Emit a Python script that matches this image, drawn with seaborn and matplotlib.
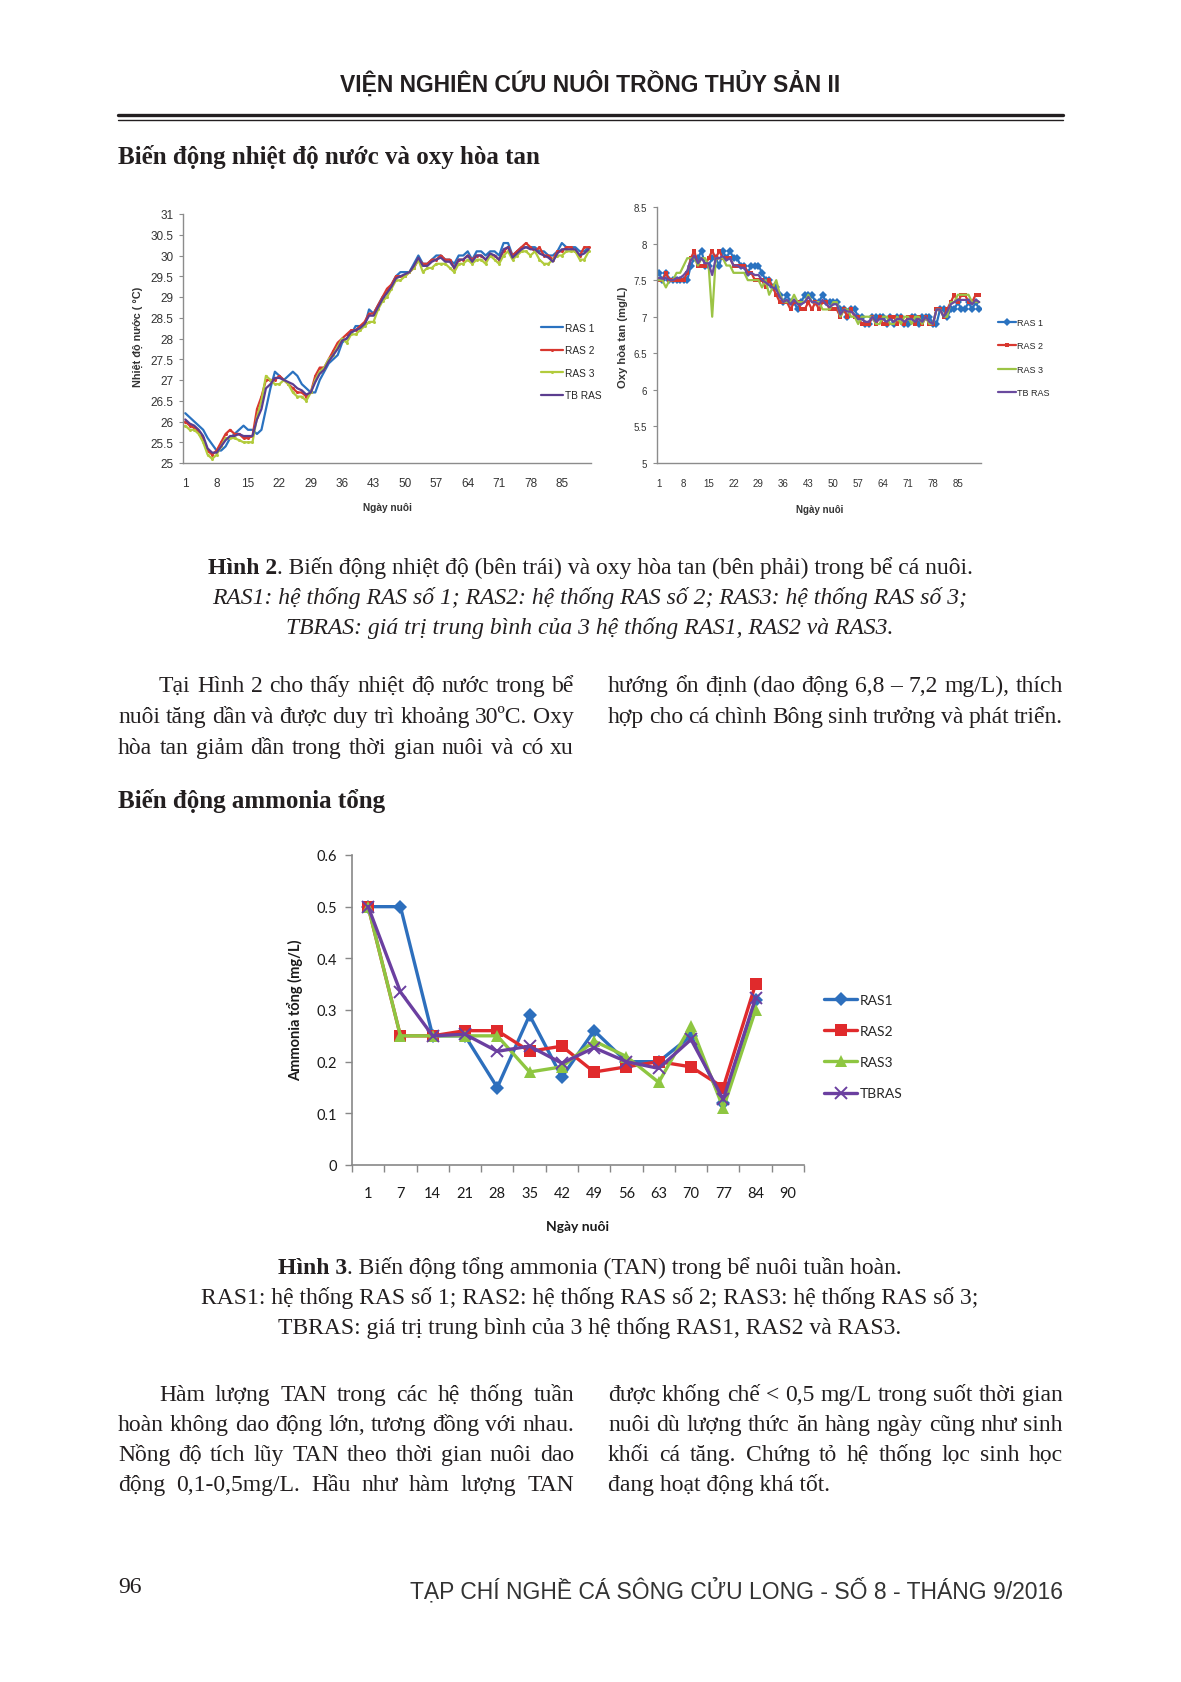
import numpy as np
import pandas as pd
import seaborn as sns
import matplotlib
matplotlib.use('Agg')
import matplotlib.pyplot as plt
from matplotlib.lines import Line2D

# ---- data: water temperature (Hinh 2, left), days 1..91
ras1_temp = [26.2, 26.1, 26.0, 25.9, 25.8, 25.6, 25.45,
             25.3, 25.3, 25.4, 25.6, 25.7, 25.8, 25.9,
             25.8, 25.8, 25.7, 25.8, 26.3, 26.8, 27.2,
             27.1, 27.0, 27.1, 27.2, 27.1, 26.9, 26.8,
             26.7, 26.7, 27.0, 27.2, 27.4, 27.5, 27.6,
             27.9, 28.0, 28.1, 28.3, 28.3, 28.3, 28.7,
             28.6, 28.8, 29.0, 29.1, 29.3, 29.5, 29.6,
             29.6, 29.6, 29.8, 30.0, 29.8, 29.8, 29.9,
             30.0, 30.0, 29.9, 29.9, 29.8, 30.0, 30.0,
             30.1, 29.9, 30.1, 30.1, 30.0, 30.1, 30.1,
             30.0, 30.3, 30.3, 30.0, 30.1, 30.2, 30.2,
             30.2, 30.2, 30.1, 30.1, 30.0, 30.0, 30.1,
             30.3, 30.2, 30.2, 30.2, 30.1, 30.1, 30.2]
ras2_temp = [26.0, 25.9, 25.85, 25.75, 25.6, 25.3, 25.2,
             25.3, 25.5, 25.7, 25.8, 25.7, 25.7, 25.6,
             25.6, 25.65, 26.3, 26.6, 27.0, 27.0, 27.0,
             27.1, 27.0, 26.9, 26.8, 26.7, 26.7, 26.6,
             26.7, 27.1, 27.3, 27.3, 27.5, 27.7, 27.9,
             28.0, 28.1, 28.2, 28.2, 28.3, 28.4, 28.6,
             28.6, 28.8, 29.0, 29.2, 29.3, 29.5, 29.5,
             29.5, 29.6, 29.7, 29.9, 29.8, 29.8, 29.9,
             29.9, 30.0, 29.9, 29.9, 29.7, 29.9, 29.9,
             30.0, 29.9, 30.0, 30.0, 29.9, 30.0, 30.0,
             29.9, 30.1, 30.2, 30.0, 30.1, 30.2, 30.3,
             30.2, 30.1, 30.2, 30.0, 30.0, 29.9, 30.1,
             30.1, 30.2, 30.2, 30.1, 30.0, 30.2, 30.2]
ras3_temp = [25.9, 25.8, 25.8, 25.7, 25.5, 25.2, 25.1,
             25.2, 25.4, 25.6, 25.6, 25.6, 25.55, 25.5,
             25.5, 25.5, 26.1, 26.5, 27.1, 27.0, 26.9,
             26.9, 27.0, 26.9, 26.7, 26.6, 26.6, 26.5,
             26.7, 27.0, 27.2, 27.3, 27.5, 27.6, 27.8,
             28.0, 27.9, 28.1, 28.1, 28.2, 28.3, 28.4,
             28.4, 28.7, 28.9, 29.0, 29.2, 29.4, 29.4,
             29.5, 29.6, 29.7, 29.9, 29.6, 29.7, 29.7,
             29.8, 29.8, 29.8, 29.7, 29.6, 29.8, 29.8,
             29.9, 29.8, 29.9, 29.9, 29.8, 30.0, 29.9,
             29.8, 30.0, 30.1, 29.9, 30.0, 30.1, 30.1,
             30.0, 30.1, 29.9, 29.8, 29.8, 29.9, 30.0,
             30.0, 30.1, 30.1, 30.1, 29.9, 29.9, 30.1]
tb_temp = [26.05, 25.95, 25.9, 25.8, 25.65, 25.35, 25.25,
           25.25, 25.4, 25.55, 25.65, 25.65, 25.7, 25.65,
           25.65, 25.65, 26.05, 26.3, 26.8, 26.9, 27.05,
           27.05, 27.0, 26.95, 26.9, 26.8, 26.75, 26.65,
           26.7, 26.95, 27.15, 27.25, 27.45, 27.6, 27.75,
           27.95, 28.0, 28.15, 28.2, 28.25, 28.35, 28.55,
           28.55, 28.75, 28.95, 29.1, 29.25, 29.45, 29.5,
           29.55, 29.6, 29.75, 29.95, 29.75, 29.75, 29.85,
           29.9, 29.95, 29.85, 29.85, 29.7, 29.9, 29.9,
           30.0, 29.85, 30.0, 30.0, 29.9, 30.05, 30.0,
           29.9, 30.15, 30.2, 29.95, 30.05, 30.15, 30.2,
           30.15, 30.15, 30.05, 30.0, 29.95, 29.85, 30.05,
           30.15, 30.15, 30.15, 30.15, 30.0, 30.05, 30.15]

# ---- data: dissolved oxygen (Hinh 2, right), days 1..91
ras1_do = [7.6, 7.5, 7.6, 7.5, 7.5, 7.5, 7.5,
           7.5, 7.5, 7.7, 7.8, 7.8, 7.9, 7.7,
           7.7, 7.8, 7.8, 7.7, 7.9, 7.8, 7.9,
           7.8, 7.8, 7.7, 7.7, 7.6, 7.7, 7.7,
           7.7, 7.6, 7.5, 7.5, 7.4, 7.4, 7.3,
           7.2, 7.3, 7.2, 7.2, 7.1, 7.2, 7.3,
           7.3, 7.3, 7.2, 7.2, 7.3, 7.2, 7.2,
           7.2, 7.2, 7.1, 7.1, 7.0, 7.1, 7.1,
           7.0, 7.0, 6.9, 6.9, 7.0, 7.0, 7.0,
           7.0, 6.9, 7.0, 6.9, 7.0, 7.0, 6.9,
           6.9, 7.0, 7.0, 6.9, 7.0, 7.0, 7.0,
           6.9, 6.9, 7.1, 7.1, 7.0, 7.1, 7.1,
           7.2, 7.1, 7.1, 7.2, 7.1, 7.2, 7.1]
ras2_do = [7.5, 7.5, 7.6, 7.5, 7.5, 7.5, 7.5,
           7.5, 7.6, 7.8, 7.9, 7.7, 7.7, 7.7,
           7.8, 7.9, 7.8, 7.9, 7.8, 7.8, 7.8,
           7.7, 7.7, 7.7, 7.7, 7.6, 7.6, 7.5,
           7.5, 7.5, 7.4, 7.5, 7.4, 7.3, 7.2,
           7.2, 7.2, 7.1, 7.2, 7.2, 7.1, 7.1,
           7.2, 7.1, 7.2, 7.1, 7.2, 7.2, 7.1,
           7.1, 7.1, 7.0, 7.1, 7.0, 7.1, 7.0,
           7.0, 6.9, 6.9, 6.9, 7.0, 6.9, 7.0,
           6.9, 6.9, 7.0, 7.0, 6.9, 7.0, 6.9,
           7.0, 7.0, 6.9, 7.0, 6.9, 7.0, 6.9,
           6.9, 7.1, 7.1, 7.0, 7.1, 7.2, 7.3,
           7.2, 7.3, 7.3, 7.2, 7.2, 7.3, 7.3]
ras3_do = [7.5, 7.5, 7.4, 7.5, 7.5, 7.6, 7.6,
           7.7, 7.8, 7.8, 7.8, 7.7, 7.8, 7.8,
           7.7, 7.0, 7.8, 7.8, 7.8, 7.7, 7.7,
           7.6, 7.6, 7.6, 7.6, 7.5, 7.5, 7.5,
           7.5, 7.4, 7.5, 7.3, 7.4, 7.5, 7.3,
           7.2, 7.2, 7.2, 7.3, 7.2, 7.2, 7.2,
           7.3, 7.2, 7.2, 7.2, 7.1, 7.1, 7.1,
           7.2, 7.2, 7.0, 7.1, 7.1, 7.0, 7.0,
           6.9, 7.0, 7.0, 7.0, 7.0, 6.9, 6.9,
           7.0, 7.0, 6.9, 6.9, 7.0, 6.9, 7.0,
           7.0, 6.9, 7.0, 7.0, 6.9, 7.0, 6.9,
           6.9, 7.1, 7.1, 7.0, 7.0, 7.2, 7.2,
           7.3, 7.3, 7.3, 7.3, 7.2, 7.2, 7.2]
tb_do = [7.53, 7.52, 7.53, 7.5, 7.5, 7.53, 7.53,
         7.57, 7.63, 7.77, 7.83, 7.73, 7.8, 7.73,
         7.73, 7.57, 7.8, 7.8, 7.83, 7.77, 7.8,
         7.7, 7.7, 7.67, 7.67, 7.57, 7.6, 7.57,
         7.57, 7.5, 7.47, 7.43, 7.4, 7.37, 7.27,
         7.2, 7.23, 7.17, 7.23, 7.17, 7.17, 7.2,
         7.27, 7.2, 7.2, 7.17, 7.23, 7.17, 7.13,
         7.17, 7.17, 7.03, 7.1, 7.07, 7.07, 7.03,
         6.97, 6.97, 6.93, 6.93, 7.0, 6.93, 6.97,
         6.97, 6.93, 6.97, 6.93, 6.97, 6.97, 6.93,
         6.97, 6.97, 6.93, 6.97, 6.93, 7.0, 6.93,
         6.9, 7.1, 7.1, 7.0, 7.07, 7.17, 7.2,
         7.23, 7.23, 7.23, 7.23, 7.17, 7.23, 7.2]

# ---- data: total ammonia (Hinh 3)
tan_days = ['1', '7', '14', '21', '28', '35', '42', '49', '56', '63', '70', '77', '84', '90']
ras1_tan = [0.5, 0.5, 0.25, 0.25, 0.15, 0.29, 0.17, 0.26, 0.20, 0.20, 0.25, 0.12, 0.32]
ras2_tan = [0.5, 0.25, 0.25, 0.26, 0.26, 0.22, 0.23, 0.18, 0.19, 0.20, 0.19, 0.15, 0.35]
ras3_tan = [0.5, 0.25, 0.25, 0.25, 0.25, 0.18, 0.19, 0.24, 0.21, 0.16, 0.27, 0.11, 0.30]
tb_tan = [0.5, 0.335, 0.25, 0.253, 0.22, 0.23, 0.197, 0.227, 0.20, 0.187, 0.243, 0.127, 0.323]

W, H = 1181, 1683
INK = '#231f20'
SERIF = ['Liberation Serif', 'DejaVu Serif']
NARROW = ['Liberation Sans Narrow', 'Liberation Sans', 'DejaVu Sans']
CAL = ['Lato', 'DejaVu Sans']
BODY = 17

sns.set_theme(style='white')
plt.rcParams['font.family'] = SERIF

fig = plt.figure(figsize=(W / 100, H / 100), dpi=100)
fig.patch.set_facecolor('white')
renderer = fig.canvas.get_renderer()


def fx(x):
    return x / W


def fy(y):
    return 1 - y / H


def text_w(s, **kw):
    t = fig.text(0, 0, s, **kw)
    w = t.get_window_extent(renderer=renderer).width
    t.remove()
    return w


def put_line(x0, x1, y, line, justify=True, size=BODY):
    # justified body text, word by word
    kw = dict(fontsize=size, family=SERIF, color=INK, va='baseline')
    if not justify:
        fig.text(fx(x0), fy(y), line, **kw)
        return
    words = line.split()
    ws = [text_w(w, **kw) for w in words]
    gap = (x1 - x0 - sum(ws)) / (len(words) - 1)
    x = x0
    for w, wd in zip(words, ws):
        fig.text(fx(x), fy(y), w, **kw)
        x += wd + gap


def put_centered(xc, y, segs, size=BODY):
    ws = [text_w(s, fontsize=size, family=SERIF, **st) for s, st in segs]
    x = xc - sum(ws) / 2
    for (s, st), wd in zip(segs, ws):
        fig.text(fx(x), fy(y), s, fontsize=size, family=SERIF, color=INK, va='baseline', **st)
        x += wd


# ---- page header
fig.text(fx(590), fy(84), 'VIỆN NGHIÊN CỨU NUÔI TRỒNG THỦY SẢN II', family=NARROW,
         fontsize=16.5, fontweight='bold', color=INK, ha='center', va='center')
fig.add_artist(Line2D([fx(118), fx(1063)], [fy(116), fy(116)], lw=2.4, color=INK))
fig.add_artist(Line2D([fx(118), fx(1063)], [fy(120.5), fy(120.5)], lw=1.0, color=INK))

fig.text(fx(118), fy(164), 'Biến động nhiệt độ nước và oxy hòa tan', family=SERIF,
         fontsize=18, fontweight='bold', color=INK, va='baseline')


def style_axes(ax, lw=1.0, col='#8c8c8c'):
    for s in ['top', 'right']:
        ax.spines[s].set_visible(False)
    for s in ['left', 'bottom']:
        ax.spines[s].set_color(col)
        ax.spines[s].set_linewidth(lw)
    ax.set_facecolor('none')
    ax.set_xlabel('')
    ax.set_ylabel('')


# ---- left chart: temperature
days = np.arange(1, len(ras1_temp) + 1)
axT = fig.add_axes([fx(183), fy(464), (591 - 183) / W, (464 - 215) / H])
temp_cols = ['#2a72c0', '#d8372f', '#b2cb3c', '#5b3d8f']
temp_mk = [None, 'o', 'o', None]
for vals, c, m, lab in zip([ras1_temp, ras2_temp, ras3_temp, tb_temp], temp_cols, temp_mk,
                           ['RAS 1', 'RAS 2', 'RAS 3', 'TB RAS']):
    sns.lineplot(x=days, y=vals, ax=axT, color=c, marker=m, markersize=2.2, markeredgewidth=0,
                 linewidth=1.6, label=lab)
axT.set_xlim(0.5, 91.5)
axT.set_ylim(25, 31)
axT.set_xticks(np.arange(1, 92, 7))
axT.set_yticks(np.arange(25, 31.01, 0.5))
axT.set_yticklabels(['%g' % v for v in np.arange(25, 31.01, 0.5)])
style_axes(axT)
axT.tick_params(axis='y', length=3, width=0.8, color='#8c8c8c', pad=4, labelsize=8.5,
                labelcolor='#333333', left=True)
axT.tick_params(axis='x', length=0, pad=10, labelsize=8.5, labelcolor='#333333')
for lb in axT.get_xticklabels() + axT.get_yticklabels():
    lb.set_family(NARROW)
axT.legend(loc='upper left', bbox_to_anchor=(fx(541), fy(324)), bbox_transform=fig.transFigure,
           frameon=False, prop={'family': NARROW, 'size': 7.3}, handlelength=2.2, handletextpad=0.15,
           labelspacing=1.22, borderpad=0, borderaxespad=0)
fig.text(fx(138), fy(337), 'Nhiệt độ nước ( °C)', family=NARROW, fontsize=7.8, fontweight='bold',
         color='#333333', rotation=90, ha='center', va='center')
fig.text(fx(387), fy(508), 'Ngày nuôi', family=NARROW, fontsize=7.3, fontweight='bold',
         color='#333333', ha='center', va='center')

# ---- right chart: dissolved oxygen
axO = fig.add_axes([fx(657), fy(464), (981 - 657) / W, (464 - 208) / H])
do_cols = ['#2a72c0', '#d8372f', '#9cc445', '#6a4a9e']
do_mk = ['D', 's', None, None]
do_ms = [3.8, 2.4, 0, 0]
for vals, c, m, ms, lab in zip([ras1_do, ras2_do, ras3_do, tb_do], do_cols, do_mk, do_ms,
                               ['RAS 1', 'RAS 2', 'RAS 3', 'TB RAS']):
    sns.lineplot(x=days, y=vals, ax=axO, color=c, marker=m, markersize=ms, markeredgewidth=0,
                 linewidth=1.6, label=lab)
axO.set_xlim(0.5, 91.5)
axO.set_ylim(5, 8.5)
axO.set_xticks(np.arange(1, 92, 7))
axO.set_yticks(np.arange(5, 8.51, 0.5))
axO.set_yticklabels(['%g' % v for v in np.arange(5, 8.51, 0.5)])
style_axes(axO)
axO.tick_params(axis='y', length=3, width=0.8, color='#8c8c8c', pad=4, labelsize=7,
                labelcolor='#333333', left=True)
axO.tick_params(axis='x', length=0, pad=11, labelsize=7, labelcolor='#333333')
for lb in axO.get_xticklabels() + axO.get_yticklabels():
    lb.set_family(NARROW)
axO.legend(loc='upper left', bbox_to_anchor=(fx(998), fy(319)), bbox_transform=fig.transFigure,
           frameon=False, prop={'family': NARROW, 'size': 6.5}, handlelength=2.0, handletextpad=0.1,
           labelspacing=1.6, borderpad=0, borderaxespad=0)
fig.text(fx(623), fy(337), 'Oxy hòa tan (mg/L)', family=NARROW, fontsize=8, fontweight='bold',
         color='#333333', rotation=90, ha='center', va='center')
fig.text(fx(820), fy(510), 'Ngày nuôi', family=NARROW, fontsize=7, fontweight='bold',
         color='#333333', ha='center', va='center')

# ---- caption Hinh 2 + paragraph
put_centered(590, 574, [('Hình 2', {'fontweight': 'bold'}),
                        ('. Biến động nhiệt độ (bên trái) và oxy hòa tan (bên phải) trong bể cá nuôi.', {})])
put_centered(590, 604, [('RAS1: hệ thống RAS số 1; RAS2: hệ thống RAS số 2; RAS3: hệ thống RAS số 3;',
                         {'fontstyle': 'italic'})])
put_centered(590, 634, [('TBRAS: giá trị trung bình của 3 hệ thống RAS1, RAS2 và RAS3.',
                         {'fontstyle': 'italic'})])

put_line(159, 574, 692, 'Tại Hình 2 cho thấy nhiệt độ nước trong bể')
put_line(118, 574, 723, 'nuôi tăng dần và được duy trì khoảng 30ºC. Oxy')
put_line(118, 574, 754, 'hòa tan giảm dần trong thời gian nuôi và có xu')
put_line(608, 1063, 692, 'hướng ổn định (dao động 6,8 – 7,2 mg/L), thích')
put_line(608, 1063, 723, 'hợp cho cá chình Bông sinh trưởng và phát triển.')

fig.text(fx(118), fy(808), 'Biến động ammonia tổng', family=SERIF,
         fontsize=18, fontweight='bold', color=INK, va='baseline')

# ---- bottom chart: total ammonia
axA = fig.add_axes([fx(352), fy(1166), (804 - 352) / W, (1166 - 856) / H])
pos = np.arange(len(ras1_tan))
tan_cols = ['#2d6fbd', '#e02a2c', '#8ec641', '#6b3fa0']
tan_mk = ['D', 's', '^', 'x']
tan_ms = [7, 8.5, 8.5, 8]
for vals, c, m, ms, lab in zip([ras1_tan, ras2_tan, ras3_tan, tb_tan], tan_cols, tan_mk, tan_ms,
                               ['RAS1', 'RAS2', 'RAS3', 'TBRAS']):
    sns.lineplot(x=pos, y=vals, ax=axA, color=c, marker=m, markersize=ms, markeredgecolor=c,
                 markeredgewidth=1.4 if m == 'x' else 0, linewidth=2.4, label=lab)
axA.set_xlim(-0.5, len(tan_days) - 0.5)
axA.set_ylim(0, 0.6)
axA.set_xticks(np.arange(len(tan_days)))
axA.set_xticklabels(tan_days)
axA.set_xticks(np.arange(len(tan_days) + 1) - 0.5, minor=True)
axA.set_yticks(np.arange(0, 0.61, 0.1))
axA.set_yticklabels(['%g' % round(v, 1) for v in np.arange(0, 0.61, 0.1)])
style_axes(axA, lw=1.2, col='#888888')
axA.tick_params(axis='y', length=5, width=1, color='#888888', pad=6, labelsize=10.5,
                labelcolor='#1a1a1a', left=True)
axA.tick_params(axis='x', which='major', length=0, pad=15, labelsize=10.5, labelcolor='#1a1a1a')
axA.tick_params(axis='x', which='minor', length=5, width=1, color='#888888', bottom=True)
for lb in axA.get_xticklabels() + axA.get_yticklabels():
    lb.set_family(CAL)
axA.legend(loc='upper left', bbox_to_anchor=(fx(824), fy(995)), bbox_transform=fig.transFigure,
           frameon=False, prop={'family': CAL, 'size': 10}, handlelength=2.4, handletextpad=0.15,
           labelspacing=1.38, borderpad=0, borderaxespad=0)
fig.text(fx(295), fy(1010), 'Ammonia tổng (mg/L)', family=CAL, fontsize=10.5, fontweight='bold',
         color='#1a1a1a', rotation=90, ha='center', va='center')
fig.text(fx(577), fy(1227), 'Ngày nuôi', family=CAL, fontsize=10, fontweight='bold',
         color='#1a1a1a', ha='center', va='center')

# ---- caption Hinh 3 + paragraph
put_centered(590, 1274, [('Hình 3', {'fontweight': 'bold'}),
                         ('. Biến động tổng ammonia (TAN) trong bể nuôi tuần hoàn.', {})])
put_centered(590, 1304, [('RAS1: hệ thống RAS số 1; RAS2: hệ thống RAS số 2; RAS3: hệ thống RAS số 3;', {})])
put_centered(590, 1334, [('TBRAS: giá trị trung bình của 3 hệ thống RAS1, RAS2 và RAS3.', {})])

put_line(159, 574, 1401, 'Hàm lượng TAN trong các hệ thống tuần')
put_line(118, 574, 1431, 'hoàn không dao động lớn, tương đồng với nhau.')
put_line(118, 574, 1461, 'Nồng độ tích lũy TAN theo thời gian nuôi dao')
put_line(118, 574, 1491, 'động 0,1-0,5mg/L. Hầu như hàm lượng TAN')
put_line(608, 1063, 1401, 'được khống chế < 0,5 mg/L trong suốt thời gian')
put_line(608, 1063, 1431, 'nuôi dù lượng thức ăn hàng ngày cũng như sinh')
put_line(608, 1063, 1461, 'khối cá tăng. Chứng tỏ hệ thống lọc sinh học')
put_line(608, 1063, 1491, 'đang hoạt động khá tốt.', justify=False)

# ---- footer
fig.text(fx(118), fy(1593), '96', family=SERIF, fontsize=17, color=INK, va='baseline')
fig.text(fx(1063), fy(1598), 'TẠP CHÍ NGHỀ CÁ SÔNG CỬU LONG - SỐ 8 - THÁNG 9/2016', family=NARROW,
         fontsize=16.5, color='#333333', ha='right', va='baseline')

fig.savefig('out.png', dpi=100, facecolor='white')
